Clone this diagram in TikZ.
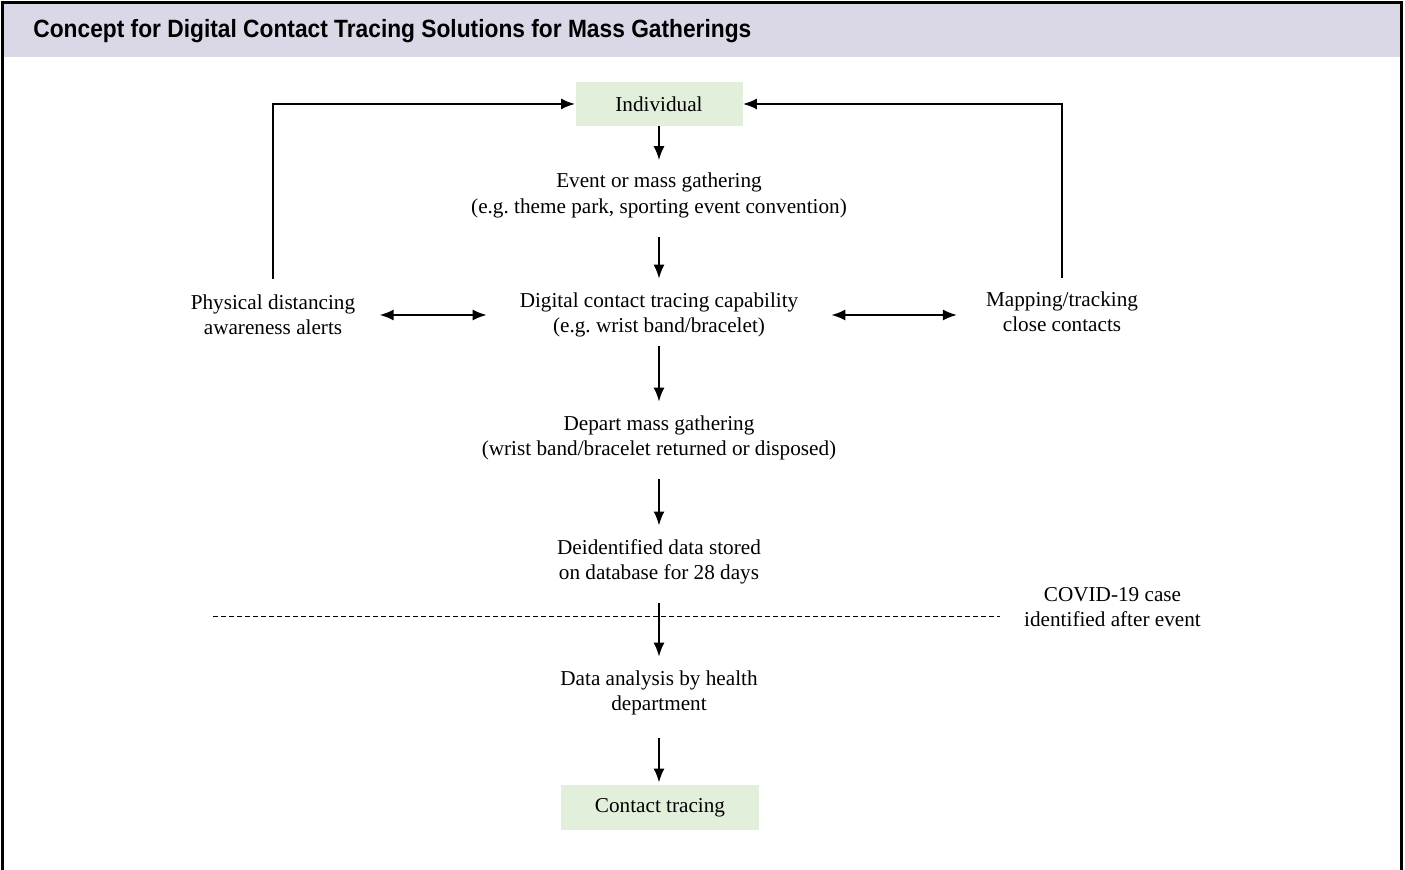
\documentclass[tikz,border=0pt]{standalone}
\usepackage{fontspec}
\setmainfont{Liberation Serif}
\newfontfamily\titlefont[FakeStretch=0.91]{Liberation Sans}
\usepackage{xcolor}
\usetikzlibrary{arrows.meta, positioning, calc}
\definecolor{titlebar}{RGB}{218,216,230}
\definecolor{boxgreen}{RGB}{226,239,218}
\frenchspacing
\tikzset{
    textnode/.style={
        align=center,
        font=\fontsize{10.6}{12.6}\selectfont,
    },
    greenbox/.style={
        textnode,
        fill=boxgreen,
        minimum height=22pt,
    },
    flow/.style={
        ->,
        line width=1pt,
        shorten <=7pt,
        shorten >=3.5pt,
    },
    twoway/.style={
        <->,
        line width=1pt,
    },
    cutline/.style={
        line width=0.5pt,
        dash pattern=on 2.5pt off 1.5pt,
    },
}

\begin{document}
\begin{tikzpicture}[x=0.5pt,y=-0.5pt,>={Latex[length=7pt,width=5.5pt]}]
      \useasboundingbox (0,0) rectangle (1405,870);

      % frame and title
      \fill[titlebar] (4,4) rectangle (1400,57);
      \draw[line width=1.5pt] (2.5,870) -- (2.5,2.5) -- (1401.5,2.5) -- (1401.5,870);
      \node[anchor=base west, inner sep=0pt, font=\titlefont\bfseries\fontsize{12.5}{14}\selectfont] (title) at (33,38) {Concept for Digital Contact Tracing Solutions for Mass Gatherings};

      % main column
      \node [greenbox, minimum width=83.5pt] (ind) at (659,104) {Individual};
      \node [textnode] (ev) at (659,195.5) {Event or mass gathering\\(e.g. theme park, sporting event convention)};
      \node [textnode] (dig) at (659,315) {Digital contact tracing capability\\(e.g. wrist band/bracelet)};
      \node [textnode] (dep) at (659,438) {Depart mass gathering\\(wrist band/bracelet returned or disposed)};
      \node [textnode] (deid) at (659,562) {Deidentified data stored\\on database for 28 days};
      \node [textnode] (dat) at (659,693) {Data analysis by health\\department};
      \node [greenbox, minimum width=99pt, minimum height=22.5pt] (ct) at (660,807.5) {Contact tracing};

      % side nodes
      \node [textnode] (phys) at (273,315) {Physical distancing\\awareness alerts};
      \node [textnode] (map) at (1062,312) {Mapping/tracking\\close contacts};
      \node [textnode] (covid) at (1112.5,607) {COVID-19 case\\identified after event};

      \coordinate (cut-left) at (213,617);
      \coordinate (cut-right) at (1000,617);
      \draw[cutline] (cut-left) -- (cut-right);

      \draw[flow, shorten <=0pt, shorten >=3pt] (ind) -- (ev);
      \draw[flow, shorten <=6pt] (ev) -- (dig);
      \draw[flow, shorten <=1pt] (dig) -- (dep);
      \draw[flow, shorten <=6pt] (dep) -- (deid);
      \draw[flow, shorten <=6pt] (deid) -- (dat);
      \draw[flow, shorten <=8pt, shorten >=1pt] (dat) -- (dat |- ct.north);

      \draw[flow, shorten <=4.5pt, shorten >=0pt] (phys.north) |- (ind.west);
      \draw[flow, shorten <=3.3pt, shorten >=0pt] (map.north) |- (ind.east);

      \draw[twoway, shorten <=8.7pt, shorten >=13pt] (phys.east) -- (phys.east -| dig.west);
      \draw[twoway, shorten <=13pt, shorten >=11pt] (dig.east |- phys.east) -- (phys.east -| map.west);
    \end{tikzpicture}
\end{document}
